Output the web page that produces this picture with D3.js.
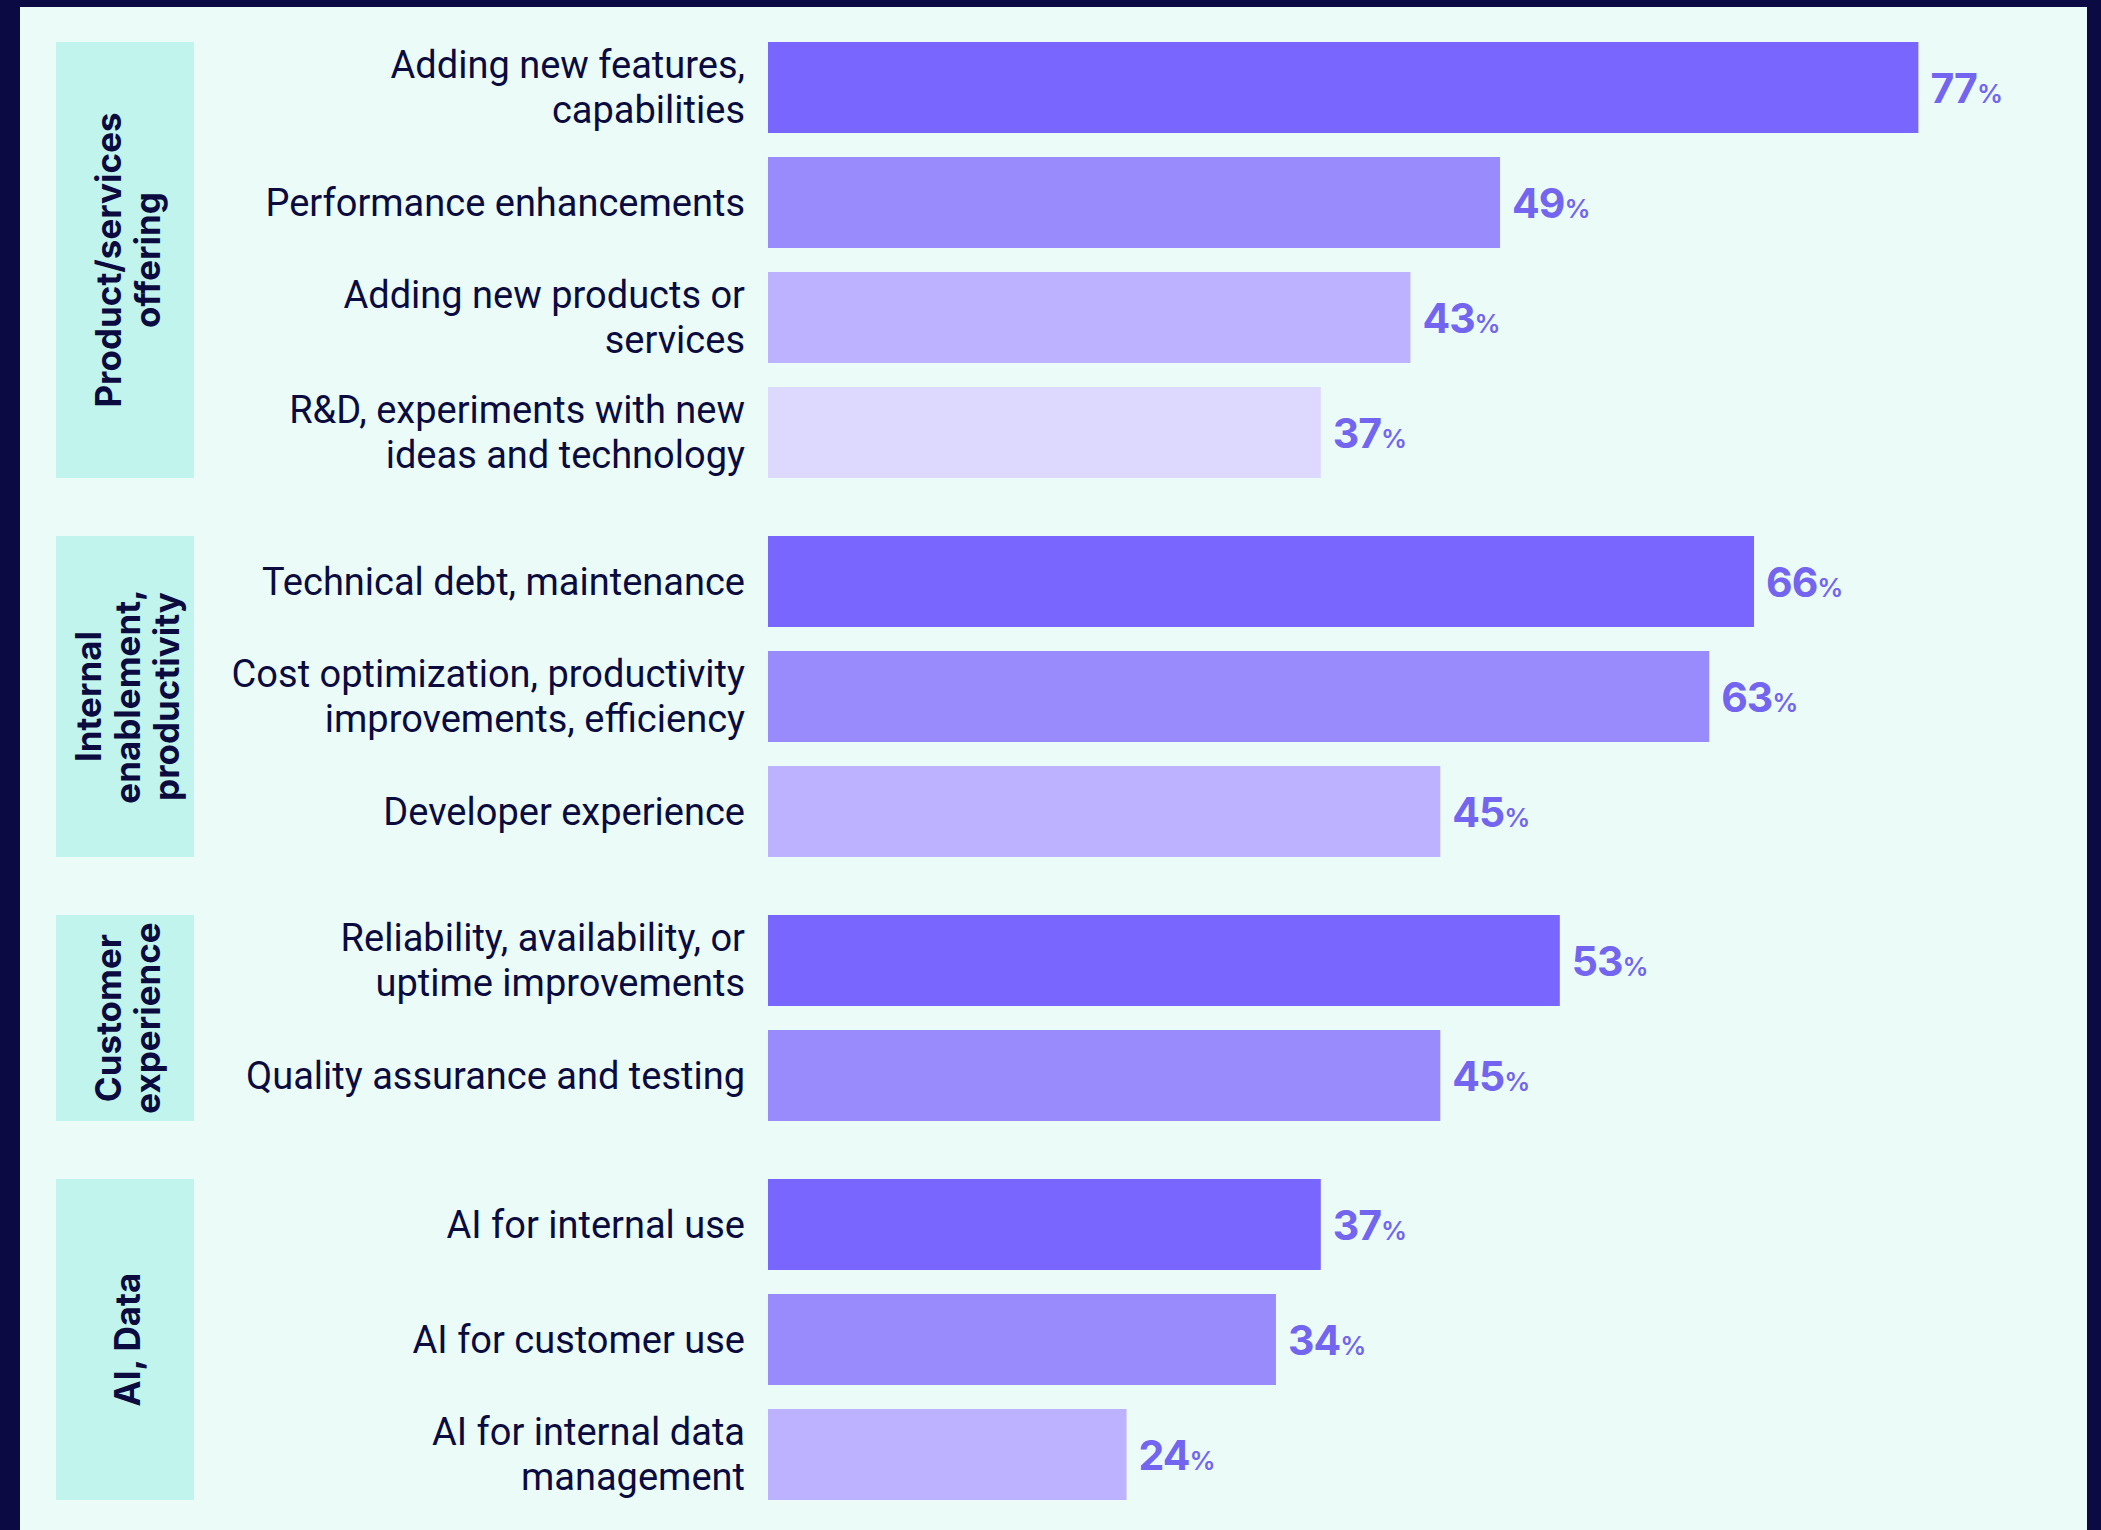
<!DOCTYPE html>
<html>
<head>
<meta charset="utf-8">
<script src="https://cdn.jsdelivr.net/npm/d3@7"></script>
<style>
  body { margin: 0; background: #0b0a42; }
  svg { display: block; }
</style>
</head>
<body>
<script>
const WIDTH = 2101;
const HEIGHT = 1530;

// group headings (one entry per line of the rotated label)
var groupLabels = [
    ['Product/services', 'offering'],
    ['Internal', 'enablement,', 'productivity'],
    ['Customer', 'experience'],
    ['AI, Data']
];

// category labels, already split into lines as in the picture
var categories = [
    ['Adding new features,', 'capabilities'],
    ['Performance enhancements'],
    ['Adding new products or', 'services'],
    ['R&D, experiments with new', 'ideas and technology'],
    ['Technical debt, maintenance'],
    ['Cost optimization, productivity', 'improvements, efficiency'],
    ['Developer experience'],
    ['Reliability, availability, or', 'uptime improvements'],
    ['Quality assurance and testing'],
    ['AI for internal use'],
    ['AI for customer use'],
    ['AI for internal data', 'management']
];
var values = [77, 49, 43, 37, 66, 63, 45, 53, 45, 37, 34, 24];
var groupOf = [0, 0, 0, 0, 1, 1, 1, 2, 2, 3, 3, 3];

var shades = ['#7966ff', '#9a8bfd', '#bcb2ff', '#dcd8fe'];

var rowStep = 115, barH = 91, groupGap = 34, top0 = 42;

// row position = index + extra gap for every group passed
var rows = values.map(function(v, i) {
    var g = groupOf[i];
    var first = groupOf.indexOf(g);
    return {value: v, label: categories[i], group: g, k: i - first,
            pos: i + g * groupGap / rowStep};
});

var x = d3.scaleLinear().domain([0, 100]).range([768, 2262]);
var y = d3.scaleLinear().domain([0, 1]).range([top0, top0 + rowStep]);

var svg = d3.select('body').append('svg')
    .attr('width', WIDTH)
    .attr('height', HEIGHT);

svg.append('rect')
    .attr('x', 20).attr('y', 7)
    .attr('width', 2067).attr('height', HEIGHT - 7)
    .attr('fill', '#ebfcf8');

// group boxes
var groupData = groupLabels.map(function(lines, g) {
    var members = rows.filter(function(r) { return r.group === g; });
    return {lines: lines,
            y0: y(members[0].pos),
            y1: y(members[members.length - 1].pos) + barH};
});

var gg = svg.selectAll('g.group')
    .data(groupData)
    .enter().append('g')
    .attr('class', 'group');

gg.append('rect')
    .attr('x', 56).attr('width', 138)
    .attr('y', function(d) { return d.y0; })
    .attr('height', function(d) { return d.y1 - d.y0; })
    .attr('fill', '#c2f4ee');

gg.append('text')
    .attr('transform', function(d) {
        return 'translate(128,' + ((d.y0 + d.y1) / 2) + ') rotate(-90)';
    })
    .attr('text-anchor', 'middle')
    .attr('font-family', 'Inter, sans-serif')
    .attr('font-weight', 700)
    .attr('font-size', 35)
    .attr('fill', '#0c0b3f')
    .each(function(d) {
        var t = d3.select(this);
        var n = d.lines.length;
        d.lines.forEach(function(line, i) {
            t.append('tspan')
                .attr('x', 0)
                .attr('y', (i - (n - 1) / 2) * 39)
                .attr('dy', '0.35em')
                .text(line);
        });
    });

// bars
svg.selectAll('rect.bar')
    .data(rows)
    .enter().append('rect')
    .attr('class', 'bar')
    .attr('x', x(0))
    .attr('y', function(d) { return y(d.pos); })
    .attr('width', function(d) { return x(d.value) - x(0); })
    .attr('height', barH)
    .attr('fill', function(d) { return shades[d.k]; });

// category labels
svg.selectAll('text.cat')
    .data(rows)
    .enter().append('text')
    .attr('class', 'cat')
    .attr('text-anchor', 'end')
    .attr('font-family', 'Roboto, sans-serif')
    .attr('font-size', 38)
    .attr('fill', '#0c0b3f')
    .each(function(d) {
        var t = d3.select(this);
        var n = d.label.length;
        var cy = y(d.pos) + barH / 2;
        d.label.forEach(function(line, i) {
            t.append('tspan')
                .attr('x', 745)
                .attr('y', cy + (i - (n - 1) / 2) * 45)
                .attr('dy', '0.35em')
                .text(line);
        });
    });

// value labels
var vl = svg.selectAll('text.val')
    .data(rows)
    .enter().append('text')
    .attr('class', 'val')
    .attr('x', function(d) { return x(d.value) + 12; })
    .attr('y', function(d) { return y(d.pos) + barH / 2; })
    .attr('font-size', 41)
    .attr('dy', '0.37em')
    .attr('font-family', 'Inter, sans-serif')
    .attr('font-weight', 700)
    .attr('fill', '#7365f0');

vl.append('tspan')
    .attr('letter-spacing', -1)
    .text(function(d) { return d.value; });
vl.append('tspan')
    .attr('font-size', 26)
    .attr('font-weight', 600)
    .text('%');
</script>
</body>
</html>
